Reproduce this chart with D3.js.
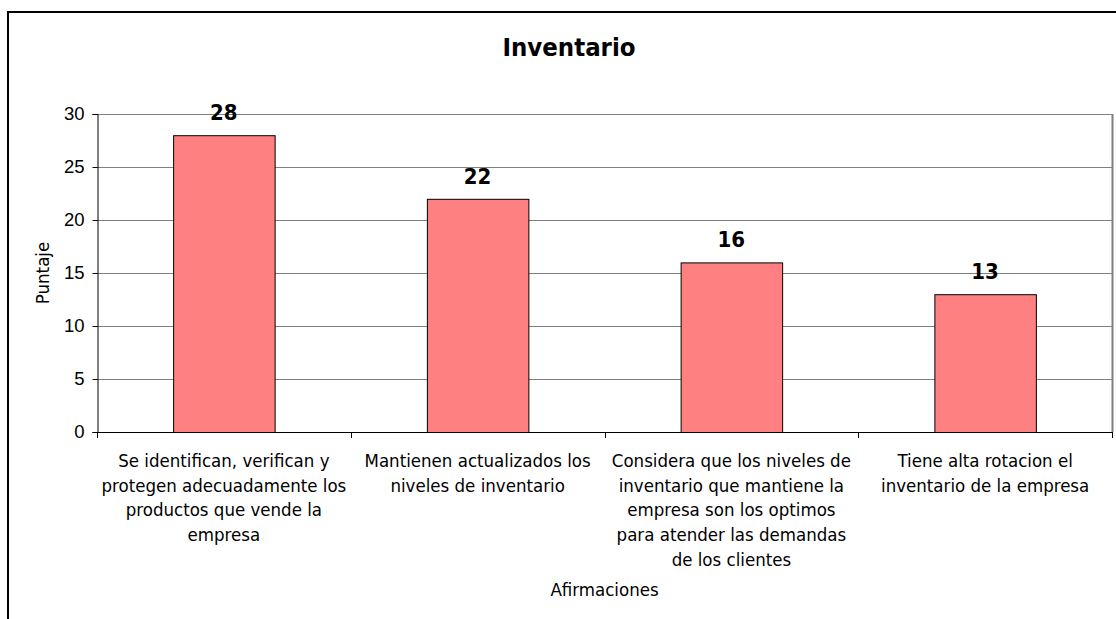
<!DOCTYPE html>
<html>
<head>
<meta charset="utf-8">
<script src="https://cdn.jsdelivr.net/npm/d3@7"></script>
<style>
  body { margin: 0; background: #fff; }
  svg { display: block; font-family: "DejaVu Sans Condensed", "DejaVu Sans", sans-serif; }
</style>
</head>
<body>
<div id="chart"></div>
<script>
const categories = [
    ["Se identifican, verifican y", "protegen adecuadamente los", "productos que vende la", "empresa"],
    ["Mantienen actualizados los", "niveles de inventario"],
    ["Considera que los niveles de", "inventario que mantiene la", "empresa son los optimos", "para atender las demandas", "de los clientes"],
    ["Tiene alta rotacion el", "inventario de la empresa"]
];
const values = [28, 22, 16, 13];
const yTicks = [0, 5, 10, 15, 20, 25, 30];

const width = 1116;
const height = 619;
const plot = { left: 97, top: 114, right: 1112, bottom: 432 };
const fontSize = 18.5;

const svg = d3.create("svg")
    .attr("width", width)
    .attr("height", height);

// outer chart frame (cropped at right and bottom)
svg.append("rect")
    .attr("x", 8).attr("y", 12)
    .attr("width", 1140).attr("height", 640)
    .attr("fill", "#fff")
    .attr("stroke", "#000")
    .attr("stroke-width", 2);

const x = d3.scaleBand()
    .domain(d3.range(categories.length))
    .range([plot.left, plot.right])
    .paddingInner(0.6)
    .paddingOuter(0.3);

const y = d3.scaleLinear()
    .domain([0, 30])
    .range([plot.bottom, plot.top]);

// gridlines
svg.append("g")
    .selectAll("line")
    .data(yTicks.filter(d => d > 0))
    .join("line")
    .attr("x1", plot.left).attr("x2", plot.right)
    .attr("y1", d => y(d) + 0.5).attr("y2", d => y(d) + 0.5)
    .attr("stroke", "#808080");

// right border of plot area
svg.append("line")
    .attr("x1", plot.right + 0.5).attr("x2", plot.right + 0.5)
    .attr("y1", plot.top).attr("y2", plot.bottom)
    .attr("stroke", "#808080")
    .attr("stroke-width", 2);

// bars
svg.append("g")
    .selectAll("rect")
    .data(values)
    .join("rect")
    .attr("x", (d, i) => x(i) + 0.5)
    .attr("y", d => y(d) + 0.5)
    .attr("width", x.bandwidth())
    .attr("height", d => y(0) - y(d))
    .attr("fill", "#FF8080")
    .attr("stroke", "#000")
    .attr("stroke-width", 1);

// value labels
svg.append("g")
    .selectAll("text")
    .data(values)
    .join("text")
    .attr("x", (d, i) => x(i) + x.bandwidth() / 2)
    .attr("y", d => y(d) - 15)
    .attr("text-anchor", "middle")
    .attr("font-size", 22)
    .attr("font-weight", "bold")
    .attr("fill", "#000")
    .text(d => d);

// y axis
const yAxis = svg.append("g")
    .attr("transform", `translate(${plot.left + 0.5},0)`)
    .call(d3.axisLeft(y).tickValues(yTicks).tickSize(5).tickPadding(8));
yAxis.select(".domain").attr("stroke", "#000");
yAxis.selectAll(".tick line").attr("stroke", "#000");
yAxis.selectAll(".tick text")
    .attr("font-size", fontSize)
    .attr("font-family", "inherit")
    .attr("fill", "#000");

// x axis: line plus ticks at category boundaries
const step = x.step();
const boundaries = d3.range(categories.length + 1).map(i => plot.left + i * step);
svg.append("line")
    .attr("x1", plot.left).attr("x2", plot.right + 1)
    .attr("y1", plot.bottom + 0.5).attr("y2", plot.bottom + 0.5)
    .attr("stroke", "#000");
svg.append("g")
    .selectAll("line")
    .data(boundaries)
    .join("line")
    .attr("x1", d => Math.round(d) + 0.5).attr("x2", d => Math.round(d) + 0.5)
    .attr("y1", plot.bottom).attr("y2", plot.bottom + 6)
    .attr("stroke", "#000");

// category labels
const catLabels = svg.append("g")
    .selectAll("text")
    .data(categories)
    .join("text")
    .attr("text-anchor", "middle")
    .attr("font-size", fontSize)
    .attr("fill", "#000");
catLabels.selectAll("tspan")
    .data((d, i) => d.map(line => ({ line, i })))
    .join("tspan")
    .attr("x", d => x(d.i) + x.bandwidth() / 2)
    .attr("y", (d, j) => 467 + j * 24.7)
    .text(d => d.line);

// titles
svg.append("text")
    .attr("x", 569).attr("y", 56)
    .attr("text-anchor", "middle")
    .attr("font-size", 25.5)
    .attr("font-weight", "bold")
    .text("Inventario");

svg.append("text")
    .attr("x", (plot.left + plot.right) / 2).attr("y", 596)
    .attr("text-anchor", "middle")
    .attr("font-size", fontSize)
    .text("Afirmaciones");

svg.append("text")
    .attr("transform", `translate(49,${(plot.top + plot.bottom) / 2}) rotate(-90)`)
    .attr("text-anchor", "middle")
    .attr("font-size", fontSize)
    .text("Puntaje");

document.getElementById("chart").appendChild(svg.node());
</script>
</body>
</html>
